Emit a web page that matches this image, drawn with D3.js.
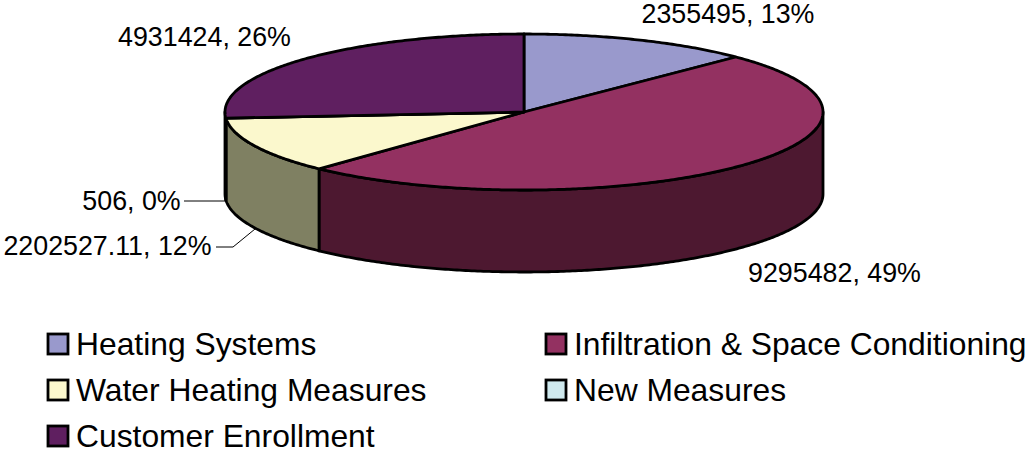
<!DOCTYPE html>
<html>
<head>
<meta charset="utf-8">
<script src="https://cdn.jsdelivr.net/npm/d3@7"></script>
<style>
html,body{margin:0;padding:0;background:#fff}
text{font-family:"Liberation Sans",Arial,sans-serif;fill:#000}
</style>
</head>
<body>
<svg id="chart" width="1029" height="454"></svg>
<script>
const categories = ["Heating Systems","Infiltration & Space Conditioning","Water Heating Measures","New Measures","Customer Enrollment"];
const values = [2355495, 9295482, 2202527.11, 506, 4931424];
const valueLabels = ["2355495, 13%","9295482, 49%","2202527.11, 12%","506, 0%","4931424, 26%"];
const topColors = ["#9999cc","#933161","#fbf8cd","#cfe9ee","#5f1f60"];
const sideColors = ["#66668a","#4d1830","#7f8062","#8a9c9f","#3f1440"];

const layout = {cx:524, cy:112, rx:299, ry:78, depth:82};
const svg = d3.select("#chart");

const pie = d3.pie().sort(null).value(d => d)(values);
const px = d3.scaleLinear().domain([-1,1]).range([layout.cx-layout.rx, layout.cx+layout.rx]);
const py = d3.scaleLinear().domain([-1,1]).range([layout.cy-layout.ry, layout.cy+layout.ry]);
const ptX = a => px(Math.sin(a));
const ptY = a => py(-Math.cos(a));

// Samples of the rim between two pie angles
const rim = (a0,a1) => {
  const n = Math.max(2, Math.ceil(Math.abs(a1-a0)/0.01));
  return d3.range(n+1).map(i => a0+(a1-a0)*i/n);
};
const line = d3.line().x(d=>d[0]).y(d=>d[1]);
const g = svg.append("g").attr("stroke","#000").attr("stroke-width",2.8).attr("stroke-linejoin","round");

// Side wall: only the part of each slice facing the viewer (angle between PI/2 and 3PI/2)
pie.forEach((s,i) => {
  const a0 = Math.max(s.startAngle, Math.PI/2), a1 = Math.min(s.endAngle, 3*Math.PI/2);
  if (a1 <= a0) return;
  const arc = rim(a0,a1);
  const pts = arc.map(a=>[ptX(a),ptY(a)]).concat(arc.slice().reverse().map(a=>[ptX(a),ptY(a)+layout.depth]));
  g.append("path").attr("d",line(pts)+"Z").attr("fill",sideColors[i]);
});

// Top face of each slice
pie.forEach((s,i) => {
  const pts = [[px(0),py(0)]].concat(rim(s.startAngle,s.endAngle).map(a=>[ptX(a),ptY(a)]));
  g.append("path").attr("d",line(pts)+"Z").attr("fill",topColors[i]);
});

// Value labels
const labelPos = [
  {x:728,y:23},{x:834.5,y:282},{x:107.5,y:255},{x:131.5,y:210},{x:204.5,y:46}
];
const labelSize = 26.8;
svg.append("g").selectAll("text").data(valueLabels).join("text")
  .attr("x",(d,i)=>labelPos[i].x).attr("y",(d,i)=>labelPos[i].y)
  .attr("text-anchor","middle").attr("font-size",labelSize).text(d=>d);

// Leader lines for the two narrow slices
const leaders = [
  [[184,201],[227,201]],
  [[216,247],[233,247],[255,229]]
];
svg.append("g").selectAll("path").data(leaders).join("path")
  .attr("d",d=>line(d)).attr("fill","none").attr("stroke","#000").attr("stroke-width",1);

// Legend, two columns
const legendX = d3.scalePoint().domain([0,1]).range([47,545]);
const legendY = d3.scalePoint().domain([0,1,2]).range([344,436]);
const lg = svg.append("g").selectAll("g").data(categories).join("g")
  .attr("transform",(d,i)=>`translate(${legendX(i%2)},${legendY(Math.floor(i/2))})`);
lg.append("rect").attr("x",1).attr("y",-10).attr("width",20).attr("height",20)
  .attr("fill",(d,i)=>topColors[i]).attr("stroke","#000").attr("stroke-width",2.8);
lg.append("text").attr("x",29).attr("y",11).attr("font-size",31.8).text(d=>d);
</script>
</body>
</html>
